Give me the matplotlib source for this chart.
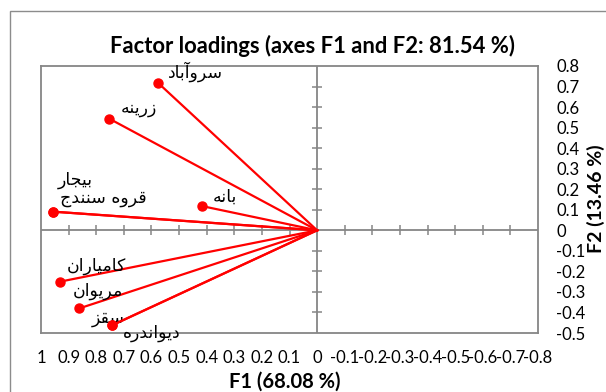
import numpy as np
import matplotlib
matplotlib.use("Agg")
import matplotlib.pyplot as plt
from matplotlib.patches import Rectangle

# factor loadings (F1, F2)
cities = ["سروآباد", "زرینه", "بیجار", "قروه سنندج", "بانه",
          "کامیاران", "مریوان", "سقز", "دیواندره"]
f1 = [0.577, 0.752, 0.958, 0.958, 0.417, 0.931, 0.861, 0.742, 0.742]
f2 = [0.719, 0.543, 0.091, 0.091, 0.118, -0.250, -0.380, -0.462, -0.462]

x_ticks = [1, 0.9, 0.8, 0.7, 0.6, 0.5, 0.4, 0.3, 0.2, 0.1, 0, -0.1, -0.2, -0.3, -0.4, -0.5, -0.6, -0.7, -0.8]
y_ticks = [0.8, 0.7, 0.6, 0.5, 0.4, 0.3, 0.2, 0.1, 0, -0.1, -0.2, -0.3, -0.4, -0.5]

title = "Factor loadings (axes F1 and F2: 81.54 %)"
x_label = "F1 (68.08 %)"
y_label = "F2 (13.46 %)"

# label placement (pixels from the point, left edge / vertical centre)
label_offsets = [(10, 11), (11, 11), (5, 32), (7, 14), (11, 9),
                 (7, 16), (-7, 17), (-20, 7), (11, -8)]

# --- minimal Persian shaping: matplotlib has no complex text layout ---
FORMS = {
    "ا": ("\uFE8D", "\uFE8E"), "آ": ("\uFE81", "\uFE82"),
    "د": ("\uFEA9", "\uFEAA"), "ر": ("\uFEAD", "\uFEAE"),
    "ز": ("\uFEAF", "\uFEB0"), "و": ("\uFEED", "\uFEEE"),
    "ب": ("\uFE8F", "\uFE90", "\uFE91", "\uFE92"),
    "ج": ("\uFE9D", "\uFE9E", "\uFE9F", "\uFEA0"),
    "س": ("\uFEB1", "\uFEB2", "\uFEB3", "\uFEB4"),
    "ق": ("\uFED5", "\uFED6", "\uFED7", "\uFED8"),
    "م": ("\uFEE1", "\uFEE2", "\uFEE3", "\uFEE4"),
    "ن": ("\uFEE5", "\uFEE6", "\uFEE7", "\uFEE8"),
    "ه": ("\uFEE9", "\uFEEA", "\uFEEB", "\uFEEC"),
    "ی": ("\uFBFC", "\uFBFD", "\uFBFE", "\uFBFF"),
    "ک": ("\uFB8E", "\uFB8F", "\uFB90", "\uFB91"),
}


def shape_fa(text):
    out = []
    for i, ch in enumerate(text):
        if ch not in FORMS:
            out.append(ch)
            continue
        prev = text[i - 1] if i > 0 else ""
        nxt = text[i + 1] if i + 1 < len(text) else ""
        joins_prev = prev in FORMS and len(FORMS[prev]) == 4
        joins_next = len(FORMS[ch]) == 4 and nxt in FORMS
        f = FORMS[ch]
        if joins_prev and joins_next:
            out.append(f[3])
        elif joins_prev:
            out.append(f[1])
        elif joins_next:
            out.append(f[2])
        else:
            out.append(f[0])
    return "".join(out)[::-1]


def fmt(v):
    return "0" if v == 0 else f"{v:g}"


plt.rcParams["font.family"] = ["Lato", "DejaVu Sans"]
grey = "#868686"

fig = plt.figure(figsize=(6.06, 3.92), dpi=100)
fig.patches.append(Rectangle((10 / 606, -0.2), 1.2, 1.2 - 11 / 392, transform=fig.transFigure,
                             fill=False, edgecolor="#8c8c8c", linewidth=1.0))
ax = fig.add_axes([41 / 606, 59 / 392, 497 / 606, 267 / 392])

ax.set_xlim(1, -0.8)
ax.set_ylim(-0.5, 0.8)
for s in ax.spines.values():
    s.set_color(grey)
    s.set_linewidth(1.3)

ax.set_xticks(x_ticks)
ax.set_xticklabels([fmt(v) for v in x_ticks])
ax.set_yticks(y_ticks)
ax.set_yticklabels([fmt(v) for v in y_ticks])
ax.yaxis.tick_right()
ax.tick_params(axis="both", length=0, labelsize=12, colors="black")
ax.tick_params(axis="x", pad=12.5)
ax.tick_params(axis="y", pad=13)

# axes through the origin with cross ticks
ax.axhline(0, color=grey, linewidth=1.3, zorder=1)
ax.axvline(0, color=grey, linewidth=1.3, zorder=1)
xt = [v for v in x_ticks if v not in (0, 1, -0.8)]
yt = [v for v in y_ticks if v not in (0, 0.8, -0.5)]
ax.plot(xt, np.zeros(len(xt)), ls="none", marker="|", ms=7.5, mew=1.1, color=grey, zorder=1)
ax.plot(np.zeros(len(yt)), yt, ls="none", marker="_", ms=7.5, mew=1.1, color=grey, zorder=1)

for x, y, name, off in zip(f1, f2, cities, label_offsets):
    ax.plot([0, x], [0, y], color="#ff0000", linewidth=1.6, zorder=3)
    ax.plot(x, y, "o", color="#ff0000", ms=6.5, zorder=4)
    ax.annotate(shape_fa(name), (x, y), xytext=off, textcoords="offset pixels",
                ha="left", va="center", fontsize=12.5, family="DejaVu Sans")

fig.text(313 / 606, 1 - 46 / 392, title, ha="center", va="center",
         fontsize=15.8, fontweight="bold")
fig.text(285 / 606, 1 - 382 / 392, x_label, ha="center", va="center",
         fontsize=14.5, fontweight="bold")
fig.text(596 / 606, 1 - 199 / 392, y_label, ha="center", va="center",
         rotation=90, fontsize=14, fontweight="bold")

fig.savefig("out.png", dpi=100)
